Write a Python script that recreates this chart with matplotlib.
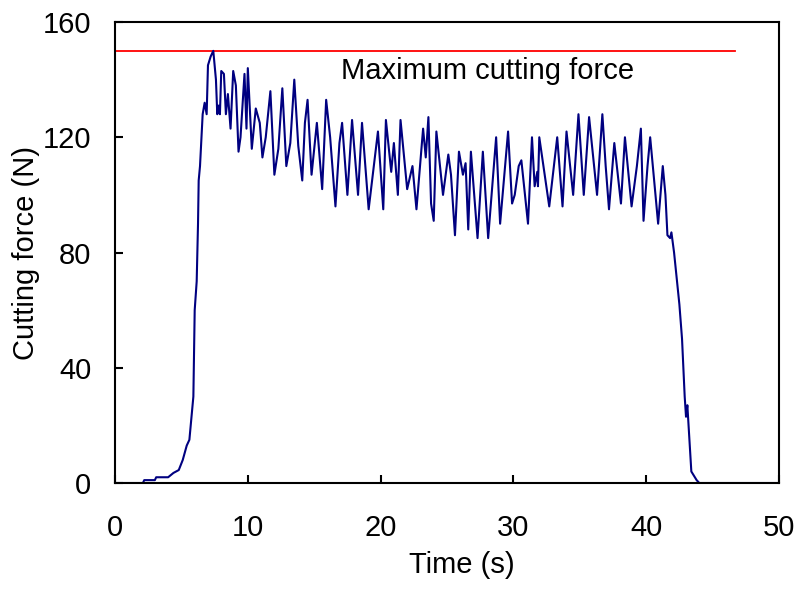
import matplotlib
matplotlib.use("Agg")
import matplotlib.pyplot as plt

plt.rcParams['font.family'] = ['Liberation Sans', 'DejaVu Sans']

time_s = [0.0, 2.1, 2.2, 3.0, 3.1, 4.0, 4.4, 4.8, 5.1, 5.4, 5.6, 5.9, 6.0, 6.15, 6.25, 6.3, 6.4,
          6.6, 6.75, 6.9, 7.0, 7.2, 7.4, 7.6, 7.7, 7.8, 7.9, 8.0, 8.2, 8.35, 8.5, 8.7, 8.9,
          9.1, 9.3, 9.45, 9.75, 9.9, 10.0, 10.3, 10.6, 10.9, 11.1, 11.35, 11.7, 12.0, 12.3,
          12.6, 12.9, 13.2, 13.5, 13.8, 14.1, 14.3, 14.5, 14.8, 15.2, 15.6, 15.9, 16.2, 16.6,
          16.9, 17.1, 17.5, 17.85, 18.3, 18.6, 19.1, 19.8, 20.2, 20.4, 20.8, 21.0, 21.3, 21.5,
          22.0, 22.4, 22.7, 23.2, 23.4, 23.6, 23.8, 24.0, 24.2, 24.7, 25.1, 25.3, 25.6, 25.9,
          26.2, 26.4, 26.6, 26.8, 27.3, 27.7, 28.1, 28.7, 29.0, 29.6, 29.9, 30.1, 30.4, 30.6,
          31.1, 31.4, 31.6, 31.8, 31.85, 31.95, 32.7, 33.3, 33.7, 34.0, 34.5, 34.9, 35.3, 35.7,
          36.3, 36.7, 36.95, 37.2, 37.6, 38.1, 38.4, 38.9, 39.3, 39.6, 39.8, 40.1, 40.3, 40.9,
          41.25, 41.45, 41.6, 41.8, 41.9, 42.1, 42.5, 42.7, 42.9, 43.0, 43.1, 43.4, 43.8, 44.0, 50.0]
force_n = [0, 0, 1, 1, 2, 2, 3.5, 4.5, 8, 13, 15, 30, 60, 70, 90, 105, 110,
           128, 132, 128, 145, 148, 150, 140, 128, 131, 128, 143, 142, 128, 135, 123, 143,
           138, 115, 120, 142, 123, 144, 116, 130, 125, 113, 120, 136, 107, 116, 137, 110,
           118, 140, 117, 105, 125, 133, 107, 125, 102, 133, 120, 96, 118, 125, 100, 126,
           100, 125, 95, 122, 95, 126, 108, 118, 100, 126, 102, 110, 95, 123, 113, 127, 97,
           91, 122, 100, 114, 107, 86, 115, 107, 111, 88, 115, 85, 115, 85, 120, 90, 122, 97,
           100, 110, 112, 90, 120, 103, 108, 103, 120, 96, 120, 96, 122, 100, 128, 100, 127,
           100, 128, 110, 95, 118, 97, 120, 96, 110, 123, 91, 110, 120, 90, 110, 100, 86, 85,
           87, 80, 62, 50, 30, 23, 27, 4, 1, 0, 0]

max_time = [0.0, 46.7]
max_force = [150, 150]

fig = plt.figure(figsize=(8.01, 5.92), dpi=100)
ax = fig.add_axes([0.1436, 0.1841, 0.8289, 0.7787])
ax.plot(max_time, max_force, color='#ff0000', lw=1.3)
ax.plot(time_s, force_n, color='#000080', lw=1.5)
ax.text(17.0, 143, 'Maximum cutting force', fontsize=21, va='center', ha='left')

ax.set_xlim(0, 50)
ax.set_ylim(0, 160)
ax.set_xticks([0, 10, 20, 30, 40, 50])
ax.set_yticks([0, 40, 80, 120, 160])
ax.tick_params(direction='in', length=6, width=1.5, labelsize=21, top=False, right=False)
ax.tick_params(axis='x', pad=22)
ax.tick_params(axis='y', pad=17)
for s in ax.spines.values():
    s.set_linewidth(1.5)
ax.set_xlabel('Time (s)', fontsize=21)
ax.xaxis.set_label_coords(0.522, -0.148)
ax.set_ylabel('Cutting force (N)', fontsize=21, labelpad=2)

fig.savefig('out.png', dpi=100)
